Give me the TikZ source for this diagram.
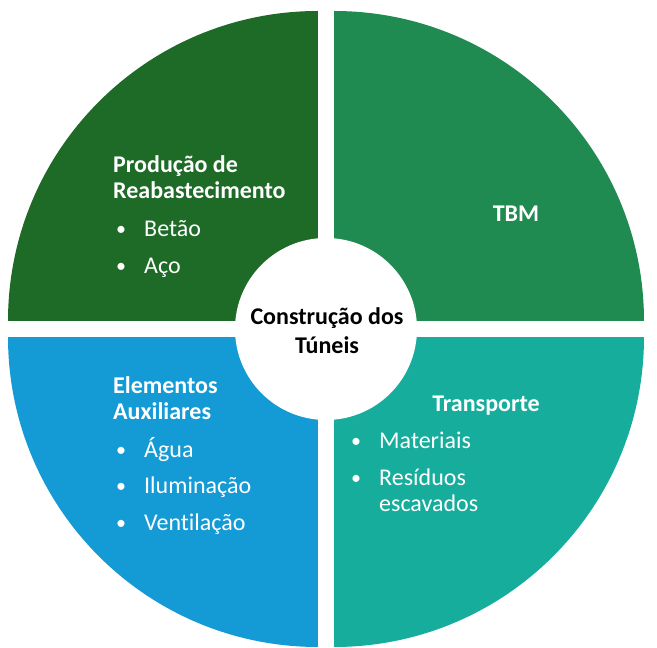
\documentclass[tikz,border=0pt]{standalone}
\usepackage{fontspec}
\setmainfont{Carlito}[Ligatures=NoCommon]
\definecolor{qtl}{RGB}{30,107,40}
\definecolor{qtr}{RGB}{31,139,81}
\definecolor{qbl}{RGB}{20,155,214}
\definecolor{qbr}{RGB}{22,173,156}
\tikzset{
  ttl/.style={anchor=base west, inner sep=0pt, text=white, font=\fontsize{24}{26.5}\selectfont\bfseries, align=left},
  itm/.style={anchor=base west, inner sep=0pt, text=white, font=\fontsize{24}{26.5}\selectfont, align=left},
  bul/.style={anchor=base west, inner sep=0pt, text=white, font=\fontsize{20}{24}\selectfont},
  ctr/.style={anchor=base, inner sep=0pt, font=\fontsize{24}{26.5}\selectfont\bfseries}
}
\begin{document}
\begin{tikzpicture}[x=1pt,y=1pt]
\useasboundingbox (0,0) rectangle (657,648);
\fill[white] (0,0) rectangle (657,648);
% quadrants
\fill[qtl] (318,327) -- (8,327) arc[start angle=180,end angle=90,radius=310] -- cycle;
\fill[qtr] (334,327) -- (334,637) arc[start angle=90,end angle=0,radius=310] -- cycle;
\fill[qbl] (318,311) -- (8,311) arc[start angle=180,end angle=270,radius=310] -- cycle;
\fill[qbr] (334,311) -- (334,1) arc[start angle=270,end angle=360,radius=310] -- cycle;
% gaps
\fill[white] (318,0) rectangle (334,648);
\fill[white] (0,311) rectangle (657,327);
% centre
\fill[white] (326,319) circle[radius=91];
\node[ctr] (c1) at (327,323) {Construção dos};
\node[ctr] (c2) at (327,294) {Túneis};
% top-left
\node[ttl] (t1) at (113,449) {Produção de\\Reabastecimento};
\node[bul] (b1a) at (116,412) {•};
\node[itm] (i1a) at (144,411) {Betão};
\node[bul] (b1b) at (116,375.5) {•};
\node[itm] (i1b) at (144,374.5) {Aço};
% top-right
\node[ttl, anchor=base] (t2) at (516,426) {TBM};
% bottom-left
\node[ttl] (t3) at (113,228) {Elementos\\Auxiliares};
\node[bul] (b3a) at (116,191) {•};
\node[itm] (i3a) at (144,190) {Água};
\node[bul] (b3b) at (116,155) {•};
\node[itm] (i3b) at (144,154) {Iluminação};
\node[bul] (b3c) at (116,118) {•};
\node[itm] (i3c) at (144,117) {Ventilação};
% bottom-right
\node[ttl, anchor=base] (t4) at (486,236) {Transporte};
\node[bul] (b4a) at (351,200) {•};
\node[itm] (i4a) at (379,199) {Materiais};
\node[bul] (b4b) at (351,163) {•};
\node[itm] (i4b) at (379,136) {Resíduos\\escavados};
\end{tikzpicture}
\end{document}
